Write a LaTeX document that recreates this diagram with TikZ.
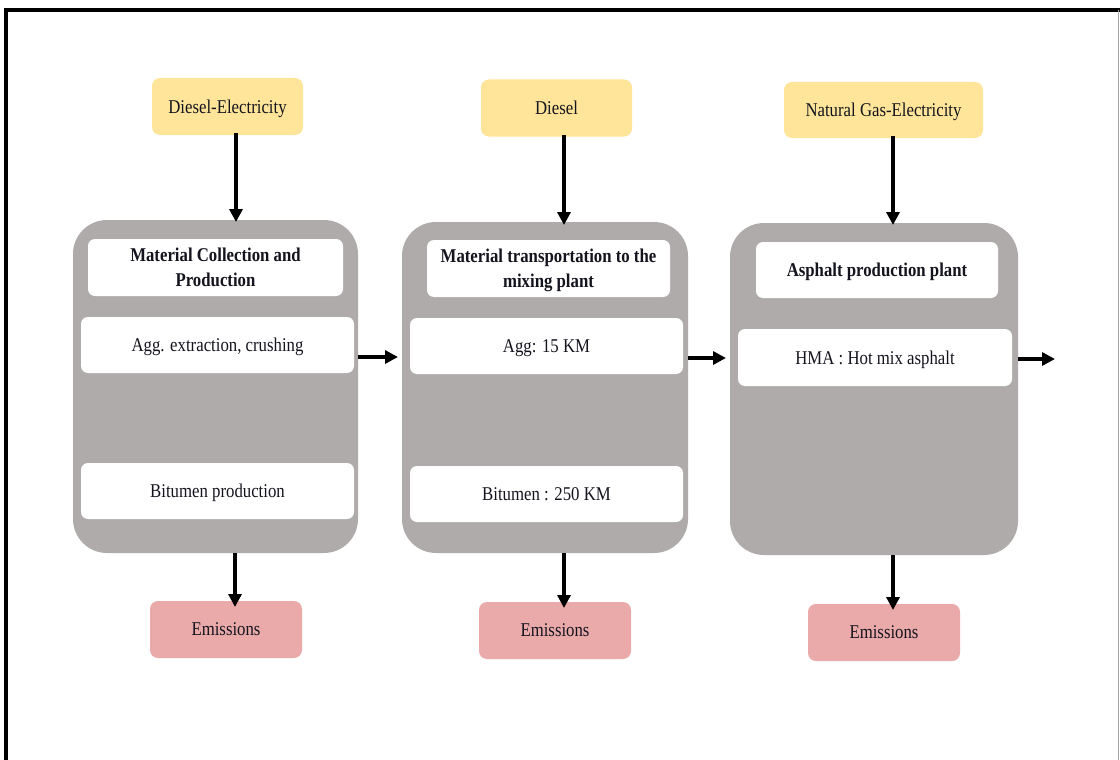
\documentclass[tikz,border=0pt]{standalone}
\usepackage{fontspec}
\setmainfont{Liberation Serif}[FakeStretch=0.86]
\usetikzlibrary{arrows.meta}
\definecolor{yel}{RGB}{255,229,153}
\definecolor{pnk}{RGB}{234,170,170}
\definecolor{grp}{RGB}{175,171,171}
\definecolor{txt}{RGB}{20,20,30}
\begin{document}
\begin{tikzpicture}[x=1pt,y=-1pt,
  every node/.style={inner sep=0pt, outer sep=0pt, text=txt, font=\fontsize{19.5}{25}\selectfont, align=center, text depth=0pt},
  grpbox/.style={fill=grp, rounded corners=34pt},
  whbox/.style={fill=white, rounded corners=7pt, minimum height=56pt},
  titlebox/.style={whbox, font=\fontsize{19.5}{25}\selectfont\bfseries},
  srcbox/.style={fill=yel, rounded corners=8pt, minimum width=151pt, minimum height=57pt},
  embox/.style={fill=pnk, rounded corners=8pt, minimum width=152pt, minimum height=57pt},
  arr/.style={line width=3.4pt, -{Triangle[length=13pt,width=13pt]}}
]
\useasboundingbox (0,0) rectangle (1120,760);
\fill[white] (0,0) rectangle (1120,760);
% frame
\draw[line width=4pt, line join=miter] (6,762) -- (6,10) -- (1122,10);
\draw[black!35, line width=1pt] (1118,10) -- (1118,762);

% grey groups
\node[grpbox, minimum width=285pt, minimum height=333pt] (g1) at (215.5,386.5) {};
\node[grpbox, minimum width=286pt, minimum height=331pt] (g2) at (545,387.5) {};
\node[grpbox, minimum width=288pt, minimum height=332pt] (g3) at (874,389) {};

% inner boxes
\node[titlebox, minimum width=255pt, minimum height=57pt] (t1) at (215.5,267.5) {Material Collection and\\Production};
\node[whbox, minimum width=273pt] (a1) at (217.5,345) {Agg. extraction, crushing};
\node[whbox, minimum width=273pt] (b1) at (217.5,491) {Bitumen production};

\node[titlebox, minimum width=243pt, minimum height=57pt] (t2) at (548.5,268.5) {Material transportation to the\\mixing plant};
\node[whbox, minimum width=273pt] (a2) at (546.5,346) {Agg: 15 KM};
\node[whbox, minimum width=273pt] (b2) at (546.5,494) {Bitumen : 250 KM};

\node[titlebox, minimum width=242pt] (t3) at (877,270) {Asphalt production plant};
\node[whbox, minimum width=274pt, minimum height=57pt] (h3) at (875,357.5) {HMA : Hot mix asphalt};

% sources
\node[srcbox] (s1) at (227.5,106.5) {Diesel-Electricity};
\node[srcbox] (s2) at (556.5,108) {Diesel};
\node[srcbox, minimum width=199pt, minimum height=56pt] (s3) at (883.5,110) {Natural Gas-Electricity};

% emissions
\node[embox] (e1) at (226,629.5) {Emissions};
\node[embox] (e2) at (555,630.5) {Emissions};
\node[embox] (e3) at (884,632.5) {Emissions};

\coordinate (out) at (1055,359);

% arrows
\draw[arr] ([yshift=2pt]s1.south -| 236,0) -- ([yshift=-2pt]g1.north -| 236,0);
\draw[arr] ([yshift=2pt]s2.south -| 564,0) -- ([yshift=-3pt]g2.north -| 564,0);
\draw[arr] ([yshift=2pt]s3.south -| 893,0) -- ([yshift=-2pt]g3.north -| 893,0);

\draw[arr] (g1.east |- 0,357) -- ([xshift=-4pt]g2.west |- 0,357);
\draw[arr] (g2.east |- 0,358) -- ([xshift=-4pt]g3.west |- 0,358);
\draw[arr] (g3.east |- 0,359) -- (out);

\draw[arr] (g1.south -| 235,0) -- ([yshift=-6pt]e1.north -| 235,0);
\draw[arr] (g2.south -| 564,0) -- ([yshift=-6pt]e2.north -| 564,0);
\draw[arr] (g3.south -| 893,0) -- ([yshift=-6pt]e3.north -| 893,0);
\end{tikzpicture}
\end{document}
